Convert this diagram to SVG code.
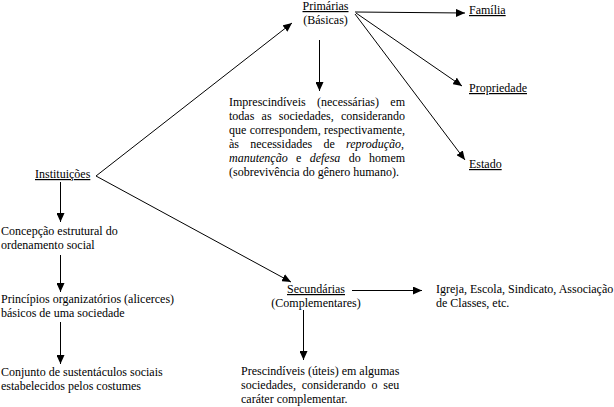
<svg xmlns="http://www.w3.org/2000/svg" width="614" height="407" viewBox="0 0 614 407">
<defs>
<marker id="ah" markerWidth="9" markerHeight="8" refX="9" refY="4" orient="auto" markerUnits="userSpaceOnUse">
<path d="M0,0 L9,4 L0,8 z" fill="#000"/>
</marker>
<style>
text{font-family:"Liberation Serif","Times New Roman",serif;font-size:12px;fill:#000}
.u{text-decoration:underline}
.c{text-anchor:middle}
.i{font-style:italic}
#connectors line{stroke:#000;stroke-width:1;marker-end:url(#ah)}
</style>
</defs>
<rect width="614" height="407" fill="#fff"/>
<g id="connectors">
<line x1="96" y1="176" x2="292" y2="23"/>
<line x1="96" y1="176" x2="291" y2="282"/>
<line x1="355" y1="12" x2="465" y2="13"/>
<line x1="356" y1="13" x2="462" y2="86"/>
<line x1="355" y1="14" x2="465" y2="160"/>
<line x1="319.5" y1="40" x2="319.5" y2="91"/>
<line x1="60.5" y1="182" x2="60.5" y2="222"/>
<line x1="60.5" y1="255" x2="60.5" y2="292"/>
<line x1="60.5" y1="322" x2="60.5" y2="364"/>
<line x1="352" y1="290.5" x2="422" y2="290.5"/>
<line x1="303.5" y1="310" x2="303.5" y2="360"/>
</g>
<g id="primarias">
<text x="325.5" y="10" class="c"><tspan class="u">Primárias</tspan></text>
<text x="325.5" y="24" class="c">(Básicas)</text>
</g>
<g id="familia"><text x="469" y="14" class="u">Família</text></g>
<g id="propriedade"><text x="469" y="92" class="u">Propriedade</text></g>
<g id="estado"><text x="469" y="168" class="u">Estado</text></g>
<g id="imprescindiveis">
<text x="229" y="106" word-spacing="8.35">Imprescindíveis (necessárias) em</text>
<text x="229" y="120" word-spacing="4.23">todas as sociedades, considerando</text>
<text x="229" y="134" word-spacing="0.35">que correspondem, respectivamente,</text>
<text x="229" y="148" word-spacing="8.23">às necessidades de <tspan class="i">reprodução</tspan>,</text>
<text x="229" y="162" word-spacing="5.35"><tspan class="i">manutenção</tspan> e <tspan class="i">defesa</tspan> do homem</text>
<text x="229" y="176">(sobrevivência do gênero humano).</text>
</g>
<g id="instituicoes"><text x="35" y="178" class="u">Instituições</text></g>
<g id="concepcao">
<text x="1" y="235">Concepção estrutural do</text>
<text x="1" y="249">ordenamento social</text>
</g>
<g id="principios">
<text x="1" y="303">Princípios organizatórios (alicerces)</text>
<text x="1" y="317">básicos de uma sociedade</text>
</g>
<g id="conjunto">
<text x="1" y="376">Conjunto de sustentáculos sociais</text>
<text x="1" y="390">estabelecidos pelos costumes</text>
</g>
<g id="secundarias">
<text x="316" y="293" class="c"><tspan class="u">Secundárias</tspan></text>
<text x="316" y="307" class="c">(Complementares)</text>
</g>
<g id="igreja">
<text x="436" y="293">Igreja, Escola, Sindicato, Associação</text>
<text x="436" y="307">de Classes, etc.</text>
</g>
<g id="prescindiveis">
<text x="241" y="375">Prescindíveis (úteis) em algumas</text>
<text x="241" y="389" word-spacing="2.77">sociedades, considerando o seu</text>
<text x="241" y="403">caráter complementar.</text>
</g>
</svg>
